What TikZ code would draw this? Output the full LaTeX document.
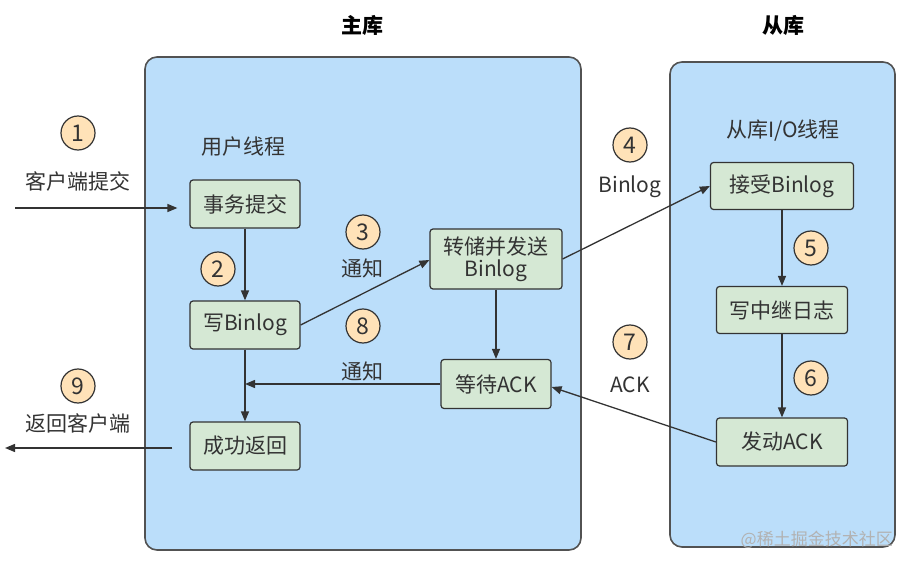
\documentclass[tikz,border=0pt]{standalone}
\usepackage{fontspec}
\setmainfont{Noto Sans CJK SC}
\usetikzlibrary{arrows.meta}
\definecolor{panel}{HTML}{BBDEFA}
\definecolor{stepfill}{HTML}{D5E8D4}
\definecolor{numfill}{HTML}{FFE2B8}
\definecolor{ink}{HTML}{333333}
\tikzset{
  panelbox/.style={draw=ink!85, line width=1.6pt, fill=panel, rounded corners=12pt},
  stepbox/.style={draw=ink, line width=1.2pt, fill=stepfill, rounded corners=3pt, inner sep=0pt, align=center, text=ink, font=\fontsize{21}{25}\selectfont},
  numcirc/.style={circle, draw=ink, line width=1.2pt, fill=numfill, minimum size=34pt, inner sep=0pt, text=ink, font=\fontsize{23}{25}\selectfont},
  lbl/.style={text=ink, font=\fontsize{21}{24}\selectfont, inner sep=0pt},
  ttl/.style={text=black, font=\fontsize{21}{24}\selectfont\bfseries, inner sep=0pt},
  arr/.style={draw=ink, line width=1.3pt, -{Triangle[length=10pt,width=8pt]}},
  ln/.style={draw=ink, line width=1.3pt}
}
\begin{document}
\begin{tikzpicture}[x=1pt,y=-1pt]
\path[use as bounding box, fill=white] (0,0) rectangle (911,567);
% panels
\draw[panelbox] (145,57) rectangle (581,550);
\draw[panelbox] (670,62) rectangle (895,547);
% titles
\node[ttl] (tmain) at (362,25) {主库};
\node[ttl] (tslave) at (783,25) {从库};
\node[lbl] (tuser) at (243,147) {用户线程};
\node[lbl] (tio) at (783,131) {从库I/O线程};
% step boxes
\node[stepbox, minimum width=110pt, minimum height=48pt] (tx) at (245,204) {事务提交};
\node[stepbox, minimum width=110pt, minimum height=48pt] (wb) at (245,325) {写Binlog};
\node[stepbox, minimum width=110pt, minimum height=48pt] (ok) at (245,446) {成功返回};
\node[stepbox, minimum width=132pt, minimum height=60pt] (dump) at (496,259) {转储并发送\\[-3pt]Binlog};
\node[stepbox, minimum width=110pt, minimum height=49pt] (wait) at (496,384) {等待ACK};
\node[stepbox, minimum width=143pt, minimum height=47pt] (recv) at (782,186) {接受Binlog};
\node[stepbox, minimum width=131pt, minimum height=47pt] (relay) at (782,310) {写中继日志};
\node[stepbox, minimum width=131pt, minimum height=48pt] (sack) at (782,442) {发动ACK};
% numbers
\node[numcirc] (n1) at (78,133) {1};
\node[numcirc] (n2) at (218,269) {2};
\node[numcirc] (n3) at (363,232) {3};
\node[numcirc] (n4) at (630,145) {4};
\node[numcirc] (n5) at (811,248) {5};
\node[numcirc] (n6) at (811,378) {6};
\node[numcirc] (n7) at (630,342) {7};
\node[numcirc] (n8) at (363,326) {8};
\node[numcirc] (n9) at (78,386) {9};
% edge labels
\node[lbl] (lc) at (78,181) {客户端提交};
\node[lbl] (lr) at (78,423) {返回客户端};
\node[lbl] (ln3) at (362,268) {通知};
\node[lbl] (ln8) at (362,371) {通知};
\node[lbl] (lb) at (630,187) {Binlog};
\node[lbl] (la) at (630,385) {ACK};
\node[text=gray!60, font=\fontsize{17}{20}\selectfont, inner sep=0pt, anchor=east] (wm) at (893,540) {@稀土掘金技术社区};
% connectors
\coordinate (cin) at (15,208);
\coordinate (cout) at (5,448);
\draw[arr, shorten >=12pt] (cin) -- (cin -| tx.west);
\draw[arr] (tx) -- (wb);
\draw[arr] (wb.east) -- ([yshift=-1pt]dump.west);
\draw[arr] (dump) -- (wait);
\draw[arr] (dump.east) -- (recv.west);
\draw[arr] (recv) -- (relay);
\draw[arr] (relay) -- (sack);
\draw[arr] (sack.west) -- ([yshift=-3pt]wait.east);
\draw[arr] (wait.west) -- (wait.west -| wb.south);
\draw[arr] (wb) -- (ok);
\draw[arr, shorten <=17pt] (cout -| ok.west) -- (cout);
\end{tikzpicture}
\end{document}
